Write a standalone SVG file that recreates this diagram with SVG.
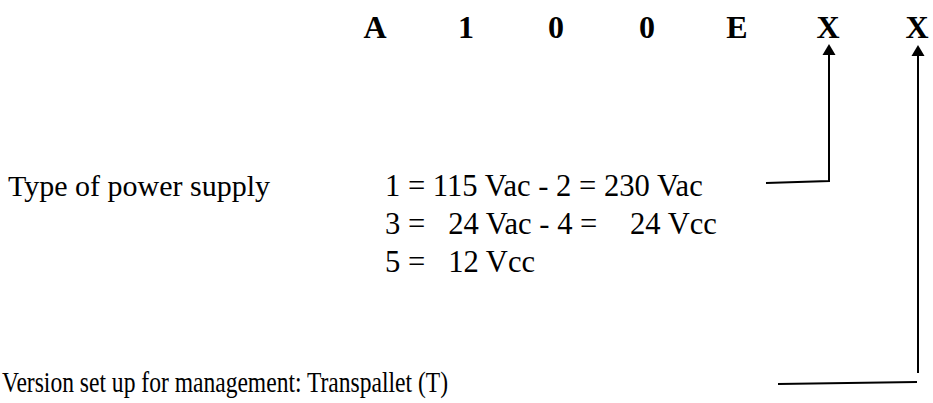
<svg xmlns="http://www.w3.org/2000/svg" width="933" height="403" viewBox="0 0 933 403">
<defs>
<style>
.t{font-family:"Liberation Serif","Times New Roman",serif;font-size:30px;fill:#000;white-space:pre}
.r{font-size:30.6px}
.b{font-weight:bold;font-size:32px;text-anchor:middle}
.ln{stroke:#000;stroke-width:2;fill:none}
.ah{fill:#000}
</style>
</defs>
<rect width="933" height="403" fill="#fff"/>
<g id="code">
<text class="t b" x="375" y="38">A</text>
<text class="t b" x="466" y="38">1</text>
<text class="t b" x="556" y="38">0</text>
<text class="t b" x="647" y="38">0</text>
<text class="t b" x="737" y="38">E</text>
<text class="t b" x="828" y="38">X</text>
<text class="t b" x="917" y="38">X</text>
</g>
<g id="power-supply">
<text class="t" x="8" y="196">Type of power supply</text>
<text class="t r" x="385" y="196" xml:space="preserve">1 = 115 Vac - 2 = 230 Vac</text>
<text class="t r" x="385" y="234" xml:space="preserve">3 =   24 Vac - 4 = <tspan x="630">24 Vcc</tspan></text>
<text class="t r" x="385" y="272" xml:space="preserve">5 =   12 Vcc</text>
</g>
<g id="version">
<text class="t" x="2" y="392" textLength="446" lengthAdjust="spacingAndGlyphs">Version set up for management: Transpallet (T)</text>
</g>
<g id="connectors">
<polyline class="ln" points="766,183 829,181 829,55"/>
<path class="ah" d="M822.5,55 L829,44 L835.5,55 Z"/>
<line class="ln" x1="918" y1="373" x2="918" y2="56"/>
<path class="ah" d="M911.5,56 L918,45 L924.5,56 Z"/>
<line class="ln" x1="778" y1="384" x2="917" y2="382"/>
</g>
</svg>
